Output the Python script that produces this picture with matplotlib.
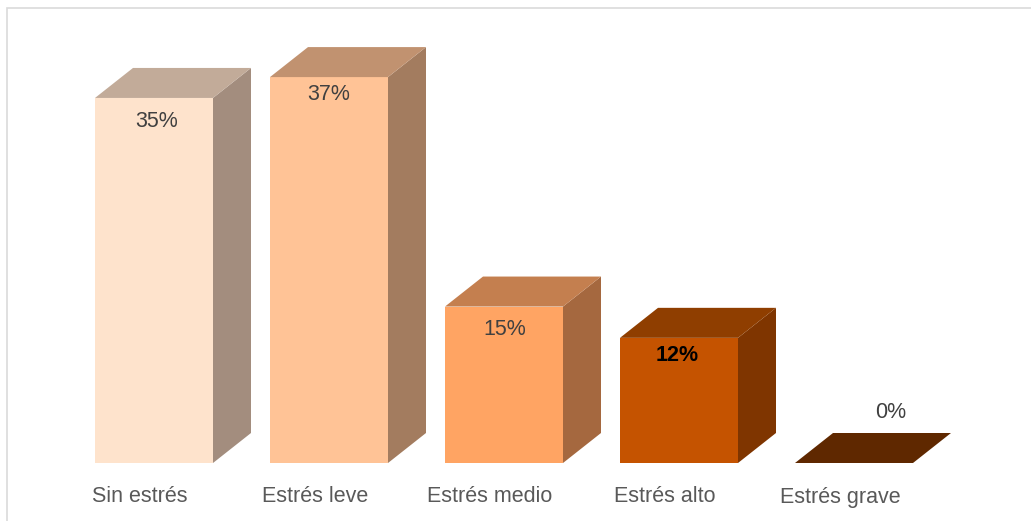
import matplotlib
matplotlib.use('Agg')
import matplotlib.pyplot as plt
from matplotlib.patches import Polygon, Rectangle

categories = ['Sin estrés', 'Estrés leve', 'Estrés medio', 'Estrés alto', 'Estrés grave']
values = [35, 37, 15, 12, 0]
labels = ['35%', '37%', '15%', '12%', '0%']

front_colors = ['#FEE3CC', '#FFC396', '#FFA463', '#C55300', '#7A3300']
side_colors = ['#A38D7E', '#A37C5F', '#A5683F', '#7F3500', '#4A1F00']
top_colors = ['#C2AB99', '#C19270', '#C47F4F', '#8F3E00', '#5F2800']
label_colors = ['#404040', '#404040', '#404040', '#000000', '#404040']
label_weights = ['normal', 'normal', 'normal', 'bold', 'normal']
label_dy = [-24, -17, -23, -18, 51]   # pixel offset of the value label from the bar top
label_dx = [3, 0, 1, -2, 37]

plt.rcParams['font.family'] = ['Liberation Sans', 'DejaVu Sans']

W, H, DPI = 1031, 521, 100
fig = plt.figure(figsize=(W / DPI, H / DPI), dpi=DPI)
fig.patch.set_facecolor('white')

# light frame around the chart area
fig.add_artist(Rectangle((7 / W, -0.01), 1.02, 1 - 8 / H + 0.01, transform=fig.transFigure,
                         fill=False, edgecolor='#DADADA', lw=1.2))

# axes in pixel-calibrated units: x step 175 px per category, 10.43 px per percent
x0_px, step_px, base_px, px_per_pct = 154, 175, 463, 10.43
left_px, right_px, top_px = 40, 1000, 40
ax = fig.add_axes([left_px / W, (H - base_px) / H, (right_px - left_px) / W, (base_px - top_px) / H])
ax.set_xlim((left_px - x0_px) / step_px, (right_px - x0_px) / step_px)
ax.set_ylim(0, (base_px - top_px) / px_per_pct)
ax.axis('off')

width = 118 / step_px
dx = 38 / step_px
dy = 30 / px_per_pct
xs = list(range(len(categories)))

ax.bar(xs, values, width=width, color=front_colors, linewidth=0, zorder=2)
for x, v, sc, tc in zip(xs, values, side_colors, top_colors):
    l, r = x - width / 2, x + width / 2
    if v > 0:
        ax.add_patch(Polygon([(r, 0), (r + dx, dy), (r + dx, v + dy), (r, v)],
                             closed=True, facecolor=sc, lw=0, zorder=2))
    ax.add_patch(Polygon([(l, v), (r, v), (r + dx, v + dy), (l + dx, v + dy)],
                         closed=True, facecolor=tc, lw=0, zorder=2))

for x, v, lab, c, w, oy, ox in zip(xs, values, labels, label_colors, label_weights, label_dy, label_dx):
    ax.annotate(lab, (x, v), xytext=(ox, oy), textcoords='offset pixels',
                ha='center', va='center', fontsize=15.5, color=c, fontweight=w, zorder=3)

for x, cat in zip(xs, categories):
    ax.annotate(cat, (x, 0), xytext=(-14, -34), textcoords='offset pixels',
                ha='center', va='center', fontsize=15.5, color='#595959', annotation_clip=False)

fig.savefig('out.png', dpi=DPI)
